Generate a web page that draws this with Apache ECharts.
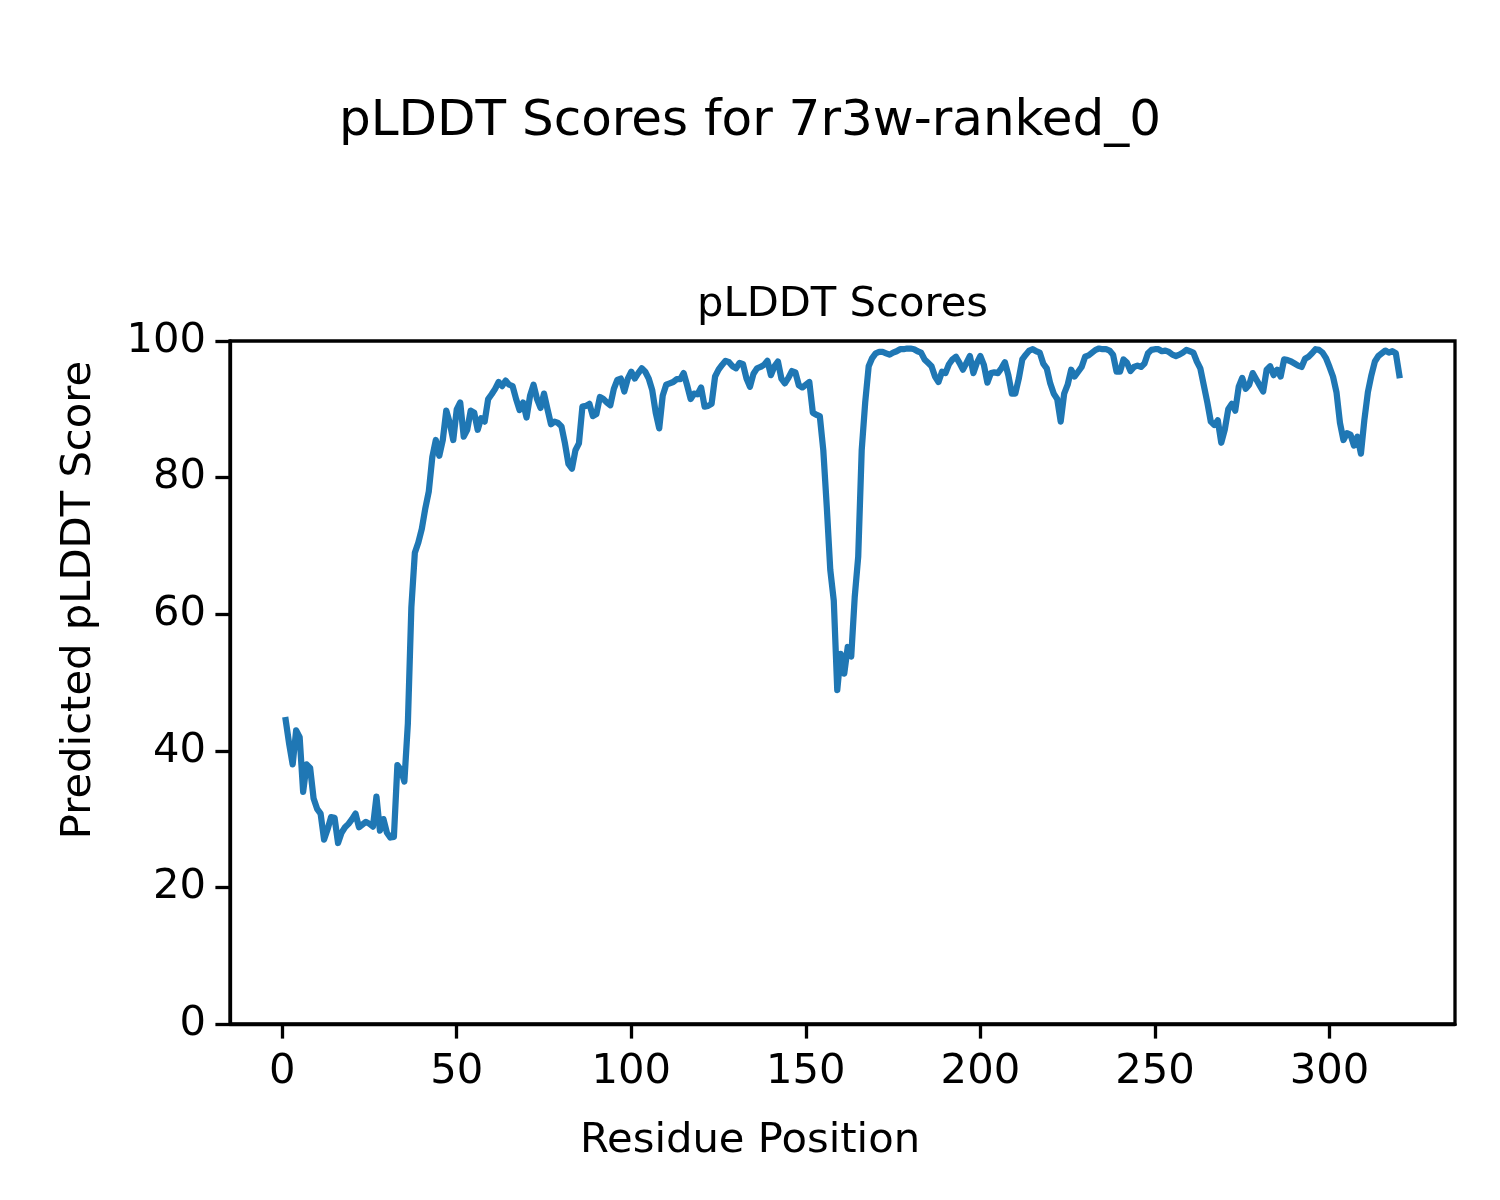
<!DOCTYPE html>
<html>
<head>
<meta charset="utf-8">
<script src="https://cdn.jsdelivr.net/npm/echarts@6/dist/echarts.min.js"></script>
<style>html,body{margin:0;padding:0;background:#fff;}#c{width:1500px;height:1200px;}</style>
</head>
<body>
<div id="c"></div>
<script>
// Residue positions 1..320 and predicted pLDDT scores
const scores = [
44.5,41,38,43,42,34,38,37.5,33,31.5,
30.8,27,28.5,30.3,30.2,26.5,28,28.8,29.3,30,
30.8,28.8,29.2,29.6,29.3,28.9,33.3,28.3,30,28,
27.3,27.4,37.9,37.2,35.5,44,61,69,70.5,72.5,
75.5,78,83,85.5,83.2,85.5,89.8,88,85.5,90,
91,86,87,89.8,89.5,87,88.7,88.2,91.5,92.2,
93,94,93.4,94.2,93.6,93.4,91.5,89.9,91,88.8,
92,93.6,91.5,90.2,92.3,90,87.8,88.2,88,87.5,
85,82,81.3,84,85,90.4,90.5,90.8,89,89.3,
91.8,91.5,91,90.6,93,94.3,94.5,92.6,94.5,95.5,
94.5,95.3,96,95.5,94.5,92.8,89.5,87.2,92,93.6,
93.8,94,94.4,94.4,95.3,93.5,91.5,92.3,92.2,93.2,
90.4,90.5,90.8,94.8,95.8,96.5,97.1,96.9,96.3,96,
96.8,96.6,94.5,93.3,95.2,96,96.2,96.5,97.1,95,
96.3,97,94.5,93.8,94.6,95.6,95.4,93.5,93.2,93.6,
94,89.5,89.2,89,84,75.7,66.5,62,48.9,54.2,
51.3,55.2,53.8,62.5,68.4,84,91,96.3,97.5,98.2,
98.4,98.4,98.2,98,98.3,98.5,98.8,98.8,98.9,98.9,
98.8,98.5,98.3,97.3,96.8,96.3,94.8,94,95.5,95.3,
96.6,97.3,97.7,96.8,95.8,96.8,97.8,95.3,96.8,97.8,
96.5,93.9,95.3,95.4,95.3,96,96.9,95,92.3,92.3,
94.5,97.3,98,98.6,98.8,98.5,98.3,96.7,96,93.8,
92.3,91.5,88.2,92.3,93.6,95.8,94.8,95.5,96.2,97.7,
97.9,98.3,98.7,98.9,98.8,98.8,98.6,98,95.5,95.5,
97.3,96.8,95.6,96.2,96.4,96.2,96.7,98.2,98.7,98.8,
98.8,98.5,98.6,98.4,98,97.8,98,98.3,98.7,98.5,
98.3,97,96,93.5,91,88.2,87.7,88.4,85.1,87,
90,90.8,89.8,93.3,94.6,93,93.6,95.3,94.4,93.5,
92.6,95.8,96.3,95,95.8,94.8,97.3,97.2,97,96.7,
96.4,96.2,97.4,97.7,98.2,98.8,98.7,98.3,97.5,96.2,
94.8,92.5,88,85.5,86.5,86.3,84.7,86,83.5,88.5,
92.5,95,97,97.8,98.2,98.6,98.3,98.5,98.2,95
];
const positions = scores.map((_, i) => i + 1);
const xTicks = [0, 50, 100, 150, 200, 250, 300];
const yTicks = [0, 20, 40, 60, 80, 100];

const suptitle = 'pLDDT Scores for 7r3w-ranked_0';
const axTitle = 'pLDDT Scores';
const xLabel = 'Residue Position';
const yLabel = 'Predicted pLDDT Score';

const FONT = '"DejaVu Sans", sans-serif';
const chart = echarts.init(document.getElementById('c'), null, {renderer: 'canvas'});
const data = positions.map((p, i) => [p, scores[i]]);
const axisCommon = {
  axisLine: {show: true, onZero: false, lineStyle: {color: '#000', width: 3.3}},
  axisTick: {show: true, inside: false, length: 14.6, lineStyle: {color: '#000', width: 3.3}},
  splitLine: {show: false},
};
chart.setOption({
  animation: false,
  backgroundColor: '#fff',
  grid: {left: 230, right: 45, top: 341, bottom: 176, show: true, borderColor: '#000', borderWidth: 3.3, backgroundColor: 'transparent'},
  xAxis: Object.assign({}, axisCommon, {
    type: 'value', min: -14.95, max: 335.95,
    axisTick: Object.assign({}, axisCommon.axisTick, {customValues: xTicks}),
    axisLabel: {customValues: xTicks, color: '#000', fontSize: 41.7, fontFamily: FONT, margin: 27}
  }),
  yAxis: Object.assign({}, axisCommon, {
    type: 'value', min: 0, max: 100, interval: 20,
    axisTick: Object.assign({}, axisCommon.axisTick, {customValues: yTicks}),
    axisLabel: {customValues: yTicks, color: '#000', fontSize: 41.7, fontFamily: FONT, margin: 24}
  }),
  series: [{
    type: 'line', data: data, showSymbol: false, symbol: 'none',
    lineStyle: {color: '#1f77b4', width: 6.25, cap: 'square', join: 'round'},
    clip: true
  }],
  graphic: [
    {type: 'text', x: 750, y: 122, style: {text: suptitle, font: '50px ' + FONT, fill: '#000', align: 'center', verticalAlign: 'middle'}},
    {type: 'text', x: 842.5, y: 305, style: {text: axTitle, font: '41.7px ' + FONT, fill: '#000', align: 'center', verticalAlign: 'middle'}},
    {type: 'text', x: 750, y: 1141, style: {text: xLabel, font: '41.7px ' + FONT, fill: '#000', align: 'center', verticalAlign: 'middle'}},
    {type: 'text', x: 79, y: 600, rotation: Math.PI / 2, style: {text: yLabel, font: '41.7px ' + FONT, fill: '#000', align: 'center', verticalAlign: 'middle'}}
  ]
});
</script>
</body>
</html>
